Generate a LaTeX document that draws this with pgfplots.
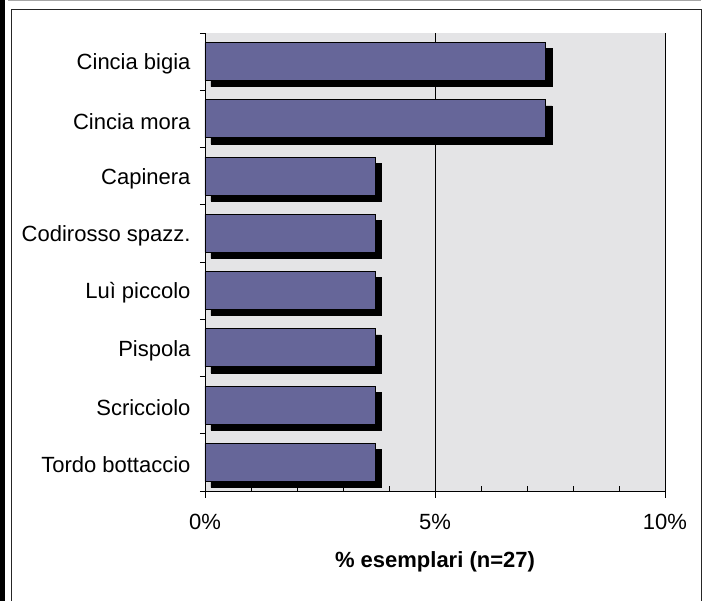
\documentclass[border=0pt]{standalone}
\usepackage{fontspec}
\setmainfont{Liberation Sans}
\usepackage{pgfplots}
\pgfplotsset{compat=1.18}
\definecolor{barblue}{RGB}{102,102,153}
\definecolor{marble}{RGB}{228,228,230}
\begin{document}
\fontsize{22}{26}\selectfont
\begin{tikzpicture}
\path[use as bounding box, fill=white] (0pt,0pt) rectangle (705pt,601pt);
\fill[black] (0pt,0pt) rectangle (5pt,601pt);
\draw[gray!70, line width=1pt] (8pt,600pt) -- (701pt,600pt);
\draw[black!85, line width=1.5pt] (11.5pt,0pt) -- (11.5pt,591.5pt) -- (701.5pt,591.5pt) -- (701.5pt,0pt);
\begin{axis}[
  at={(205pt,110pt)}, anchor=south west, scale only axis,
  width=460pt, height=458pt,
  xmin=0, xmax=10, ymin=-0.5, ymax=7.5,
  axis lines*=left,
  axis line style={black, line width=0.8pt},
  axis background/.style={fill=marble},
  xtick={0,5,10}, xticklabels={0\%,5\%,10\%},
  minor xtick={1,2,3,4,6,7,8,9},
  ytick={0,...,7},
  yticklabels={Tordo bottaccio,Scricciolo,Pispola,Luì piccolo,Codirosso spazz.,Capinera,Cincia mora,Cincia bigia},
  minor ytick={-0.5,0.5,...,7.5},
  tick align=outside,
  major tick length=7pt, minor tick length=5pt,
  major y tick style={draw=none},
  minor x tick style={yshift=5pt},
  tick style={black, line width=0.8pt},
  xmajorgrids, grid style={black, line width=0.6pt},
  xlabel={\bfseries \% esemplari (n=27)},
  xlabel style={at={(axis description cs:0.5,0)}, anchor=center, yshift=-71pt},
  xticklabel style={yshift=-9pt},
  yticklabel style={yshift=-2.5pt},
]
\addplot[xbar, bar shift=0pt, bar width=38pt, fill=black, draw=black, xshift=6pt, yshift=-6pt, forget plot]
  coordinates {(7.41,7) (7.41,6) (3.70,5) (3.70,4) (3.70,3) (3.70,2) (3.70,1) (3.70,0)};
\addplot[xbar, bar shift=0pt, bar width=38pt, fill=barblue, draw=black, line width=0.8pt]
  coordinates {(7.41,7) (7.41,6) (3.70,5) (3.70,4) (3.70,3) (3.70,2) (3.70,1) (3.70,0)};
\end{axis}
\end{tikzpicture}
\end{document}
